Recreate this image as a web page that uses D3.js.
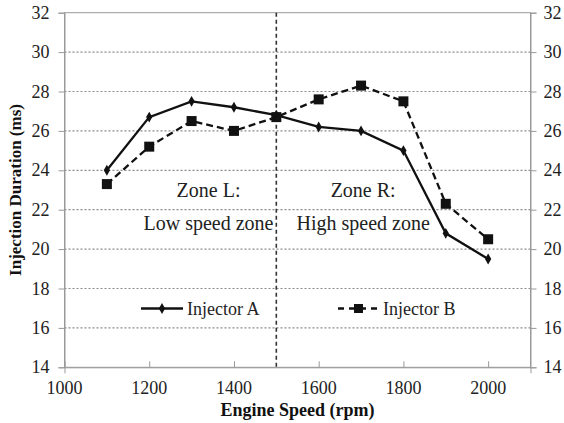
<!DOCTYPE html>
<html><head><meta charset="utf-8">
<script src="https://cdn.jsdelivr.net/npm/d3@7"></script>
<style>
#chart text{font-family:"Liberation Serif",serif;}
</style>
</head><body style="margin:0;background:#fff">
<svg id="chart" width="564" height="423"></svg>
<script>
const speeds = [1100,1200,1300,1400,1500,1600,1700,1800,1900,2000];
const injectorA = [24.0,26.7,27.5,27.2,26.8,26.2,26.0,25.0,20.8,19.5];
const injectorB = [23.3,25.2,26.5,26.0,26.7,27.6,28.3,27.5,22.3,20.5];
const xTicks = [1000,1200,1400,1600,1800,2000];
const yTicks = [14,16,18,20,22,24,26,28,30,32];
const seriesNames = ["Injector A","Injector B"];
const zoneBoundary = 1500;

const svg = d3.select("#chart");
const L=64.5, R=530.5, T=12.7, B=367.3;
const x = d3.scaleLinear().domain([1000,2100]).range([L,R]);
const y = d3.scaleLinear().domain([14,32]).range([B,T]);

function txt(sel, size, weight){
  return sel.style("font-family",'"Liberation Serif", serif').style("font-size",size+"px")
    .style("font-weight",weight||"normal");
}

// gridlines
svg.append("g").selectAll("line").data(yTicks.filter(v=>v>14&&v<32)).join("line")
  .attr("x1",L).attr("x2",R).attr("y1",d=>y(d)).attr("y2",d=>y(d))
  .attr("stroke","#8a8a8a").attr("stroke-width",1.2).attr("stroke-dasharray","2,2");

// frame
svg.append("rect").attr("x",L).attr("y",T).attr("width",R-L).attr("height",B-T)
  .attr("fill","none").attr("stroke","#999").attr("stroke-width",1);

// axes (ticks only, labels drawn as own text)
const xAxis = svg.append("g").attr("transform",`translate(0,${B})`)
  .call(d3.axisBottom(x).tickValues(xTicks).tickSize(6).tickFormat(""));
const yAxisL = svg.append("g").attr("transform",`translate(${L},0)`)
  .call(d3.axisLeft(y).tickValues(yTicks).tickSize(6).tickFormat(""));
const yAxisR = svg.append("g").attr("transform",`translate(${R},0)`)
  .call(d3.axisRight(y).tickValues(yTicks).tickSize(6).tickFormat(""));
[xAxis,yAxisL,yAxisR].forEach(g=>{
  g.select(".domain").attr("stroke","#999");
  g.selectAll(".tick line").attr("stroke","#999");
});
xAxis.selectAll(".tick line").attr("y2",-6);

txt(svg.append("g").selectAll("text").data(xTicks).join("text")
  .attr("x",d=>x(d)).attr("y",B+27).attr("text-anchor","middle").attr("fill","#222")
  .text(d=>d), 18);
txt(svg.append("g").selectAll("text").data(yTicks).join("text")
  .attr("x",L-15).attr("y",d=>y(d)+6).attr("text-anchor","end").attr("fill","#222")
  .text(d=>d), 18);
txt(svg.append("g").selectAll("text").data(yTicks).join("text")
  .attr("x",R+13).attr("y",d=>y(d)+6).attr("text-anchor","start").attr("fill","#222")
  .text(d=>d), 18);

// vertical zone line
svg.append("line").attr("x1",x(zoneBoundary)).attr("x2",x(zoneBoundary))
  .attr("y1",T).attr("y2",B).attr("stroke","#333").attr("stroke-width",1.6)
  .attr("stroke-dasharray","4,3");

// titles
txt(svg.append("text").attr("x",(L+R)/2).attr("y",416).attr("text-anchor","middle")
  .attr("fill","#111").text("Engine Speed (rpm)"), 18, "bold");
txt(svg.append("text").attr("transform",`translate(21,${(T+B)/2}) rotate(-90)`).attr("text-anchor","middle")
  .attr("fill","#111").text("Injection Duration (ms)"), 17, "bold");

// zone labels
const zones=[{x:1340,l1:"Zone L:",l2:"Low speed zone"},{x:1705,l1:"Zone R:",l2:"High speed zone"}];
zones.forEach(z=>{
  txt(svg.append("text").attr("x",x(z.x)).attr("y",197).attr("text-anchor","middle")
    .attr("fill","#222").text(z.l1), 20);
  txt(svg.append("text").attr("x",x(z.x)).attr("y",230).attr("text-anchor","middle")
    .attr("fill","#222").text(z.l2), 20);
});

const line = d3.line().x((d,i)=>x(speeds[i])).y(d=>y(d));
svg.append("path").datum(injectorA).attr("d",line).attr("fill","none")
  .attr("stroke","#111").attr("stroke-width",2.3);
svg.append("g").selectAll("path").data(injectorA).join("path")
  .attr("d",d3.symbol(d3.symbolDiamond,34)).attr("transform",(d,i)=>`translate(${x(speeds[i])},${y(d)})`)
  .attr("fill","#111");
svg.append("path").datum(injectorB).attr("d",line).attr("fill","none")
  .attr("stroke","#111").attr("stroke-width",2.3).attr("stroke-dasharray","7,4");
svg.append("g").selectAll("rect").data(injectorB).join("rect")
  .attr("x",(d,i)=>x(speeds[i])-5).attr("y",d=>y(d)-5).attr("width",10).attr("height",10)
  .attr("fill","#111");

// legend
const lg = svg.append("g");
lg.append("line").attr("x1",141).attr("x2",183).attr("y1",308.5).attr("y2",308.5)
  .attr("stroke","#111").attr("stroke-width",2.3);
lg.append("path").attr("d",d3.symbol(d3.symbolDiamond,34)).attr("transform","translate(162,308.5)").attr("fill","#111");
txt(lg.append("text").attr("x",187).attr("y",314.5).attr("fill","#222").text(seriesNames[0]), 18);
lg.append("line").attr("x1",338).attr("x2",379).attr("y1",308.5).attr("y2",308.5)
  .attr("stroke","#111").attr("stroke-width",2.3).attr("stroke-dasharray","6,5");
lg.append("rect").attr("x",354).attr("y",304).attr("width",9).attr("height",9).attr("fill","#111");
txt(lg.append("text").attr("x",383).attr("y",314.5).attr("fill","#222").text(seriesNames[1]), 18);
</script>
</body></html>
